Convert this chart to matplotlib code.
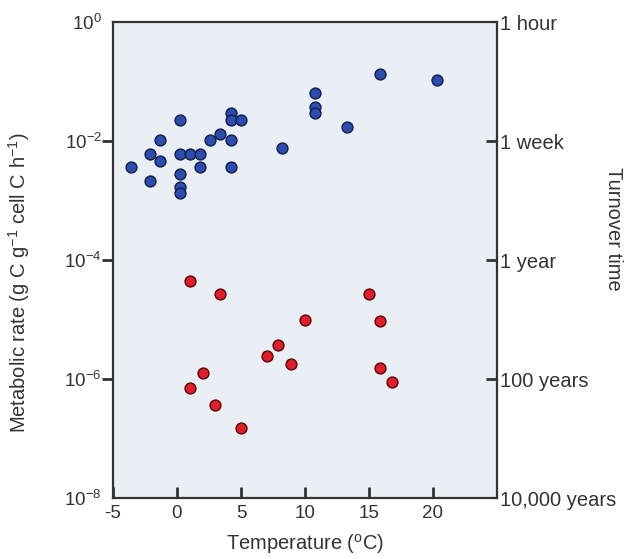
import numpy as np
import matplotlib.pyplot as plt
from matplotlib.ticker import FixedLocator, NullFormatter

plt.style.use('default')
plt.rcParams['font.family'] = ['Liberation Sans', 'DejaVu Sans']
plt.rcParams['mathtext.fontset'] = 'custom'
plt.rcParams['mathtext.rm'] = 'Liberation Sans'
plt.rcParams['mathtext.it'] = 'Liberation Sans'
plt.rcParams['axes.unicode_minus'] = False

# bacteria in surface / cold environments (blue) and deep subsurface (red)
blue_temp = [-3.6, -2.1, -2.1, -1.3, -1.3, 0.2, 0.2, 0.2, 0.2, 0.2, 1.0, 1.8, 1.8,
             2.6, 3.4, 4.2, 4.2, 4.2, 4.2, 5.0, 8.2, 10.8, 10.8, 10.8, 13.3, 15.9, 20.3]
blue_lograte = [-2.44, -2.22, -2.67, -1.99, -2.33, -1.65, -2.22, -2.55, -2.77, -2.88,
                -2.22, -2.22, -2.44, -1.99, -1.88, -1.53, -1.65, -1.99, -2.44, -1.65,
                -2.11, -1.20, -1.42, -1.53, -1.76, -0.87, -0.97]

red_temp = [1.0, 3.4, 15.0, 10.0, 15.9, 7.9, 7.0, 8.9, 15.9, 2.0, 16.8, 1.0, 3.0, 5.0]
red_lograte = [-4.35, -4.57, -4.57, -5.00, -5.02, -5.43, -5.61, -5.74, -5.82, -5.90,
               -6.05, -6.15, -6.43, -6.82]

x_ticks = [-5, 0, 5, 10, 15, 20]
y_exp = [0, -2, -4, -6, -8]
turnover_labels = ['1 hour', '1 week', '1 year', '100 years', '10,000 years']

INK = '#333333'
POS = [0.1802, 0.1091, 0.6124, 0.8515]

fig = plt.figure(figsize=(6.27, 5.59), dpi=100)

# right axis (turnover time) is its own axes, not a twin, placed underneath
axr = fig.add_axes(POS, zorder=0)
axr.set_facecolor('#e9eff5')
axr.set_yscale('log')
axr.set_ylim(1e-8, 1)
axr.set_xlim(-5, 25)
axr.xaxis.set_visible(False)
axr.yaxis.remove_overlapping_locs = False
axr.yaxis.tick_right()
axr.yaxis.set_major_locator(FixedLocator([10.0 ** e for e in y_exp]))
axr.set_yticklabels(turnover_labels)
axr.yaxis.set_minor_locator(FixedLocator([10.0 ** e for e in y_exp[1:-1]]))
axr.yaxis.set_minor_formatter(NullFormatter())
axr.tick_params(axis='y', which='major', right=True, left=False, length=0,
                labelsize=14.5, pad=2, labelcolor=INK)
axr.tick_params(axis='y', which='minor', right=True, left=False, direction='in',
                length=8, width=2, color=INK)
for sp in axr.spines.values():
    sp.set_visible(False)

# main axes on top with a transparent background
ax = fig.add_axes(POS, zorder=1)
ax.patch.set_alpha(0)

ax.scatter(blue_temp, 10.0 ** np.array(blue_lograte), s=60, c='#2c4db0',
           edgecolors='#18204f', linewidths=1.1, zorder=3)
ax.scatter(red_temp, 10.0 ** np.array(red_lograte), s=60, c='#e31d2a',
           edgecolors='#5e0c10', linewidths=1.1, zorder=3)

ax.set_xlim(-5, 25)
ax.set_yscale('log')
ax.set_ylim(1e-8, 1)

for sp in ax.spines.values():
    sp.set_linewidth(1.6)
    sp.set_color(INK)

# x axis: ticks inside
ax.set_xticks(x_ticks)
ax.tick_params(axis='x', which='major', bottom=True, top=False, direction='in',
               length=8, width=2, color=INK, labelsize=13.5, pad=5, labelcolor=INK)

# left axis: labels at every second decade, tick marks only on inner ones
ax.yaxis.remove_overlapping_locs = False
ax.yaxis.set_major_locator(FixedLocator([10.0 ** e for e in y_exp]))
ax.set_yticklabels([r'$10^{%d}$' % e for e in y_exp])
ax.yaxis.set_minor_locator(FixedLocator([10.0 ** e for e in y_exp[1:-1]]))
ax.yaxis.set_minor_formatter(NullFormatter())
ax.tick_params(axis='y', which='major', left=True, right=False, length=0,
               labelsize=13.5, pad=8, labelcolor=INK)
ax.tick_params(axis='y', which='minor', left=True, right=False, direction='out',
               length=8, width=2, color=INK)

fig.text(0.487, 0.005, 'Temperature ($^{\\mathrm{o}}$C)', ha='center', va='bottom',
         fontsize=14.5, color=INK)
fig.text(0.030, 0.494, 'Metabolic rate (g C g$^{\\mathrm{-1}}$ cell C h$^{\\mathrm{-1}}$)',
         rotation=90, ha='center', va='center', fontsize=14.5, color=INK)
fig.text(0.978, 0.59, 'Turnover time', rotation=-90, ha='center', va='center',
         fontsize=14.5, color=INK)

fig.canvas.draw()
fig.savefig('out.png', dpi=100)
